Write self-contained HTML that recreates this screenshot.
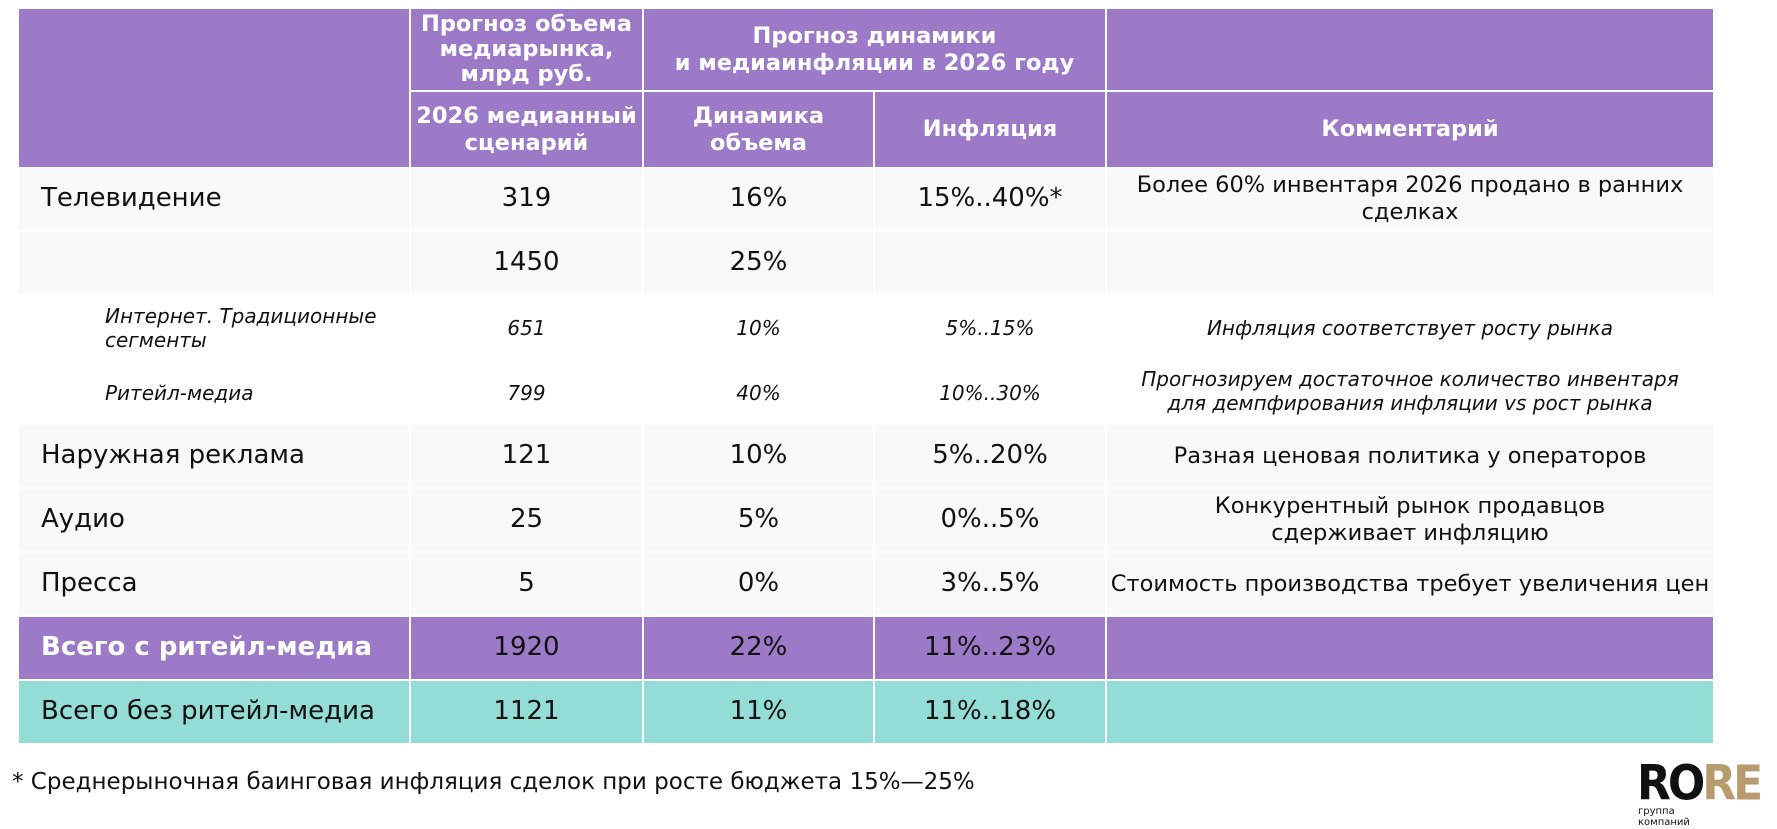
<!DOCTYPE html>
<html><head><meta charset="utf-8"><style>
body{margin:0;width:1777px;height:829px;background:#fff;position:relative;overflow:hidden;font-family:"DejaVu Sans","Liberation Sans",sans-serif;}
.c{position:absolute;display:flex;align-items:center;justify-content:center;text-align:center;box-sizing:border-box;line-height:1.2;}
.h{background:#9d7ac7;color:#fff;font-weight:bold;font-size:22.5px;}
.r{background:#f8f8f8;color:#111;font-size:26px;}
.w{background:#fff;color:#111;font-size:20px;font-style:italic;}
.p{background:#9d7ac7;color:#111;font-size:26px;}
.t{background:#94dcd6;color:#111;font-size:26px;}
.l{justify-content:flex-start;text-align:left;padding-left:22px;}
.cm{font-size:22.5px;}
</style></head><body>
<div class="c h" style="left:19px;top:9px;width:390px;height:158px"></div>
<div class="c h" style="left:411px;top:9px;width:231px;height:81px;line-height:1.1">Прогноз объема медиарынка, млрд руб.</div>
<div class="c h" style="left:644px;top:9px;width:461px;height:81px">Прогноз динамики<br>и медиаинфляции в 2026 году</div>
<div class="c h" style="left:1107px;top:9px;width:606px;height:81px"></div>
<div class="c h" style="left:411px;top:92px;width:231px;height:75px;white-space:nowrap">2026 медианный<br>сценарий</div>
<div class="c h" style="left:644px;top:92px;width:229px;height:75px">Динамика<br>объема</div>
<div class="c h" style="left:875px;top:92px;width:230px;height:75px">Инфляция</div>
<div class="c h" style="left:1107px;top:92px;width:606px;height:75px">Комментарий</div>

<div class="c r l" style="left:19px;top:168px;width:390px;height:62px">Телевидение</div>
<div class="c r" style="left:411px;top:168px;width:231px;height:62px">319</div>
<div class="c r" style="left:644px;top:168px;width:229px;height:62px">16%</div>
<div class="c r" style="left:875px;top:168px;width:230px;height:62px">15%..40%*</div>
<div class="c r cm" style="left:1107px;top:168px;width:606px;height:62px;align-items:flex-start;padding-top:4px">Более 60% инвентаря 2026 продано в ранних<br>сделках</div>
<div class="c r" style="left:19px;top:232px;width:390px;height:62px"></div>
<div class="c r" style="left:411px;top:232px;width:231px;height:62px">1450</div>
<div class="c r" style="left:644px;top:232px;width:229px;height:62px">25%</div>
<div class="c r" style="left:875px;top:232px;width:230px;height:62px"></div>
<div class="c r" style="left:1107px;top:232px;width:606px;height:62px"></div>

<div class="c w l" style="left:19px;top:296px;width:390px;height:64px;padding-left:86px">Интернет. Традиционные<br>сегменты</div>
<div class="c w" style="left:411px;top:296px;width:231px;height:64px">651</div>
<div class="c w" style="left:644px;top:296px;width:229px;height:64px">10%</div>
<div class="c w" style="left:875px;top:296px;width:230px;height:64px">5%..15%</div>
<div class="c w" style="left:1107px;top:296px;width:606px;height:64px">Инфляция соответствует росту рынка</div>
<div class="c w l" style="left:19px;top:360px;width:390px;height:65px;padding-left:86px">Ритейл-медиа</div>
<div class="c w" style="left:411px;top:360px;width:231px;height:65px">799</div>
<div class="c w" style="left:644px;top:360px;width:229px;height:65px">40%</div>
<div class="c w" style="left:875px;top:360px;width:230px;height:65px">10%..30%</div>
<div class="c w" style="left:1107px;top:360px;width:606px;height:65px;align-items:flex-start;padding-top:7px;white-space:nowrap">Прогнозируем достаточное количество инвентаря<br>для демпфирования инфляции vs рост рынка</div>

<div class="c r l" style="left:19px;top:425px;width:390px;height:62px">Наружная реклама</div>
<div class="c r" style="left:411px;top:425px;width:231px;height:62px">121</div>
<div class="c r" style="left:644px;top:425px;width:229px;height:62px">10%</div>
<div class="c r" style="left:875px;top:425px;width:230px;height:62px">5%..20%</div>
<div class="c r cm" style="left:1107px;top:425px;width:606px;height:62px">Разная ценовая политика у операторов</div>
<div class="c r l" style="left:19px;top:489px;width:390px;height:62px">Аудио</div>
<div class="c r" style="left:411px;top:489px;width:231px;height:62px">25</div>
<div class="c r" style="left:644px;top:489px;width:229px;height:62px">5%</div>
<div class="c r" style="left:875px;top:489px;width:230px;height:62px">0%..5%</div>
<div class="c r cm" style="left:1107px;top:489px;width:606px;height:62px">Конкурентный рынок продавцов<br>сдерживает инфляцию</div>
<div class="c r l" style="left:19px;top:553px;width:390px;height:62px">Пресса</div>
<div class="c r" style="left:411px;top:553px;width:231px;height:62px">5</div>
<div class="c r" style="left:644px;top:553px;width:229px;height:62px">0%</div>
<div class="c r" style="left:875px;top:553px;width:230px;height:62px">3%..5%</div>
<div class="c r cm" style="left:1107px;top:553px;width:606px;height:62px;white-space:nowrap">Стоимость производства требует увеличения цен</div>

<div class="c p l" style="left:19px;top:617px;width:390px;height:62px;color:#fff;font-weight:bold;white-space:nowrap">Всего с ритейл-медиа</div>
<div class="c p" style="left:411px;top:617px;width:231px;height:62px">1920</div>
<div class="c p" style="left:644px;top:617px;width:229px;height:62px">22%</div>
<div class="c p" style="left:875px;top:617px;width:230px;height:62px">11%..23%</div>
<div class="c p" style="left:1107px;top:617px;width:606px;height:62px"></div>
<div class="c t l" style="left:19px;top:681px;width:390px;height:62px;white-space:nowrap">Всего без ритейл-медиа</div>
<div class="c t" style="left:411px;top:681px;width:231px;height:62px">1121</div>
<div class="c t" style="left:644px;top:681px;width:229px;height:62px">11%</div>
<div class="c t" style="left:875px;top:681px;width:230px;height:62px">11%..18%</div>
<div class="c t" style="left:1107px;top:681px;width:606px;height:62px"></div>

<div style="position:absolute;left:12px;top:769px;font-size:23px;color:#111;white-space:nowrap">* Среднерыночная баинговая инфляция сделок при росте бюджета 15%—25%</div>
<div style="position:absolute;left:1637px;top:760px;font-size:44px;font-weight:bold;letter-spacing:-3px;line-height:1;transform:scaleY(1.1);transform-origin:top left"><span style="color:#111">RO</span><span style="color:#b89b6c">RE</span></div>
<div style="position:absolute;left:1638px;top:807px;font-size:10px;line-height:1.05;color:#111">группа<br>компаний</div>
</body></html>
